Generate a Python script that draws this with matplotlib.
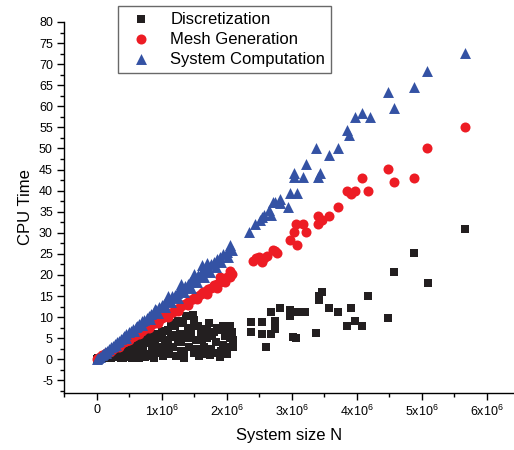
'''
CPU time against system size for the three solver stages.
Writes out.png (514x450 px).
'''

import numpy as np
import matplotlib.pyplot as plt
from matplotlib.ticker import MultipleLocator, FuncFormatter

plt.rcParams['font.family'] = ['Liberation Sans', 'DejaVu Sans']
plt.rcParams['mathtext.fontset'] = 'custom'
plt.rcParams['mathtext.rm'] = 'Liberation Sans'
plt.rcParams['mathtext.it'] = 'Liberation Sans'
plt.rcParams['axes.unicode_minus'] = False

BLACK = '#231f20'
RED = '#ed1c24'
BLUE = '#3452a4'

# system size in units of 1e6, cpu time
disc_n = [0.0, 0.03, 0.06, 0.1, 0.12, 0.15, 0.18, 0.2, 0.22, 0.25, 0.28, 0.3,
          0.32, 0.35, 0.38, 0.4, 0.42, 0.45, 0.47, 0.5, 0.52, 0.55, 0.57, 0.6,
          0.62, 0.65, 0.67, 0.7, 0.72, 0.75, 0.78, 0.8, 0.82, 0.85, 0.88, 0.9,
          0.92, 0.95, 0.98, 1.0, 1.02, 1.05, 1.08, 1.1, 1.12, 1.15, 1.18, 1.2,
          1.22, 1.25, 1.28, 1.3, 1.33, 1.35, 1.38, 1.4, 1.42, 1.45, 1.48, 1.5,
          1.53, 1.56, 1.58, 1.6, 1.63, 1.65, 1.68, 1.7, 1.73, 1.76, 1.8, 1.83,
          1.86, 1.9, 1.92, 1.95, 1.98, 2.0, 2.02, 2.05, 2.08, 2.1, 2.1,
          0.6, 0.7, 0.85, 0.95, 1.0, 1.1, 1.2, 1.3, 1.4, 1.45, 1.5, 1.55,
          1.62, 1.7, 1.78, 1.85, 1.95, 2.05, 1.35, 1.6, 1.25, 1.15, 1.05, 0.9,
          0.75, 0.4, 0.5, 0.3, 0.65, 1.9, 1.75, 2.0,
          2.38, 2.38, 2.55, 2.55, 2.6, 2.69, 2.69, 2.74, 2.74, 2.82, 2.97, 2.97,
          3.02, 3.06, 3.08, 3.2, 3.38, 3.42, 3.42, 3.46, 3.58, 3.71, 3.85, 3.91,
          3.98, 4.08, 4.18, 4.48, 4.57, 4.88, 5.09, 5.66]
disc_t = [0.0, 0.3, 0.1, 0.5, 0.2, 1.0, 0.4, 1.5, 0.3, 0.8, 2.0, 0.5,
          1.2, 2.5, 0.3, 1.8, 3.0, 0.6, 2.2, 3.5, 1.0, 0.2, 2.8, 4.2,
          1.5, 0.4, 3.2, 5.0, 2.0, 0.6, 3.8, 1.2, 5.5, 2.5, 0.3, 4.2,
          6.0, 1.5, 3.0, 6.5, 0.8, 4.5, 2.2, 7.0, 1.2, 5.2, 3.0, 7.8,
          0.8, 4.0, 6.0, 2.0, 8.5, 1.0, 10.2, 5.0, 3.0, 7.5, 10.5, 1.5,
          4.5, 8.0, 0.8, 6.0, 7.2, 3.0, 1.2, 5.0, 8.5, 2.5, 6.5, 4.0,
          1.5, 7.0, 2.0, 8.0, 5.5, 7.0, 3.0, 8.0, 6.4, 2.8, 4.5,
          0.2, 1.0, 0.8, 5.0, 2.5, 3.8, 5.8, 4.2, 7.0, 5.8, 9.2, 2.5,
          4.8, 7.0, 5.5, 7.5, 3.5, 5.0, 0.3, 1.8, 9.0, 8.5, 6.8, 2.5,
          4.5, 0.3, 2.2, 1.8, 2.5, 0.6, 1.0, 1.2,
          8.8, 6.4, 8.8, 5.9, 2.8, 11.1, 5.9, 9.0, 7.1, 12.1, 11.8, 10.2,
          5.2, 5.0, 11.1, 11.1, 6.2, 14.0, 14.9, 15.9, 12.1, 11.1, 8.0, 12.1,
          9.0, 7.8, 14.9, 9.9, 20.8, 25.1, 18.0, 31.0]

mesh_n = [0.0, 0.03, 0.06, 0.09, 0.12, 0.15, 0.18, 0.21, 0.24, 0.27, 0.3, 0.33,
          0.36, 0.39, 0.42, 0.45, 0.48, 0.51, 0.54, 0.57, 0.6, 0.63, 0.66, 0.7,
          0.73, 0.76, 0.8, 0.83, 0.86, 0.9, 0.93, 0.96, 1.0, 1.03, 1.06, 1.1,
          1.13, 1.17, 1.2, 1.24, 1.28, 1.32, 1.36, 1.4, 1.44, 1.48, 1.52, 1.56,
          1.6, 1.64, 1.68, 1.72, 1.76, 1.8, 1.85, 1.9, 1.95, 2.0, 2.05, 2.08,
          0.2, 0.35, 0.5, 0.65, 0.8, 0.95, 1.1, 1.25, 1.4, 1.55, 1.7, 1.85,
          1.98, 2.05, 1.9,
          2.4, 2.45, 2.5, 2.54, 2.58, 2.62, 2.71, 2.75, 2.78, 2.97, 3.03, 3.06,
          3.09, 3.18, 3.22, 3.4, 3.4, 3.46, 3.58, 3.71, 3.85, 3.91, 3.98, 4.08,
          4.18, 4.48, 4.57, 4.88, 5.08, 5.66]
mesh_t = [0.0, 0.3, 0.6, 0.9, 1.1, 1.4, 1.8, 2.0, 2.3, 2.7, 2.9, 3.2,
          3.5, 3.8, 4.0, 4.4, 4.6, 5.0, 5.2, 5.5, 5.9, 6.1, 6.4, 6.8,
          7.1, 7.3, 7.8, 8.0, 8.4, 8.7, 9.0, 9.4, 9.7, 10.0, 10.3, 10.6,
          11.0, 11.3, 11.7, 12.0, 12.5, 12.8, 13.2, 13.6, 14.0, 14.3, 14.8, 15.1,
          15.5, 16.0, 16.3, 16.7, 17.0, 17.5, 17.8, 18.4, 18.8, 19.4, 19.6, 20.2,
          1.7, 3.0, 4.5, 5.9, 7.3, 8.7, 10.1, 11.5, 12.9, 14.3, 15.6, 17.0,
          18.3, 21.0, 19.5,
          23.2, 24.0, 24.2, 23.0, 24.1, 24.5, 26.0, 25.8, 25.1, 28.2, 30.1, 32.2,
          27.0, 32.2, 30.1, 32.0, 34.1, 33.1, 34.1, 36.2, 40.0, 39.1, 40.0, 43.1,
          40.0, 45.2, 42.1, 43.1, 50.2, 55.1]

sys_n = [0.0, 0.02, 0.05, 0.08, 0.1, 0.13, 0.16, 0.19, 0.22, 0.25, 0.28, 0.31,
         0.34, 0.37, 0.4, 0.43, 0.46, 0.5, 0.53, 0.56, 0.6, 0.63, 0.66, 0.7,
         0.73, 0.77, 0.8, 0.84, 0.88, 0.92, 0.96, 1.0, 1.04, 1.08, 1.12, 1.16,
         1.2, 1.24, 1.28, 1.32, 1.36, 1.4, 1.44, 1.48, 1.52, 1.56, 1.6, 1.64,
         1.68, 1.72, 1.76, 1.8, 1.85, 1.9, 1.95, 2.0, 2.05, 2.09,
         0.15, 0.3, 0.45, 0.58, 0.7, 0.82, 0.95, 1.05, 1.15, 1.25, 1.35, 1.45,
         1.55, 1.65, 1.75, 1.83, 1.92, 2.02, 0.9, 1.1, 1.3, 1.5, 1.7, 1.62,
         2.06,
         2.35, 2.43, 2.51, 2.55, 2.58, 2.66, 2.69, 2.71, 2.74, 2.82, 2.82, 2.95,
         2.97, 3.03, 3.03, 3.09, 3.18, 3.22, 3.38, 3.4, 3.43, 3.58, 3.71, 3.85,
         3.89, 3.98, 4.09, 4.2, 4.48, 4.57, 4.88, 5.08, 5.66]
sys_t = [0.0, 0.2, 0.6, 1.0, 1.2, 1.7, 2.0, 2.5, 2.8, 3.2, 3.6, 4.0,
         4.3, 4.8, 5.1, 5.5, 5.9, 6.4, 6.8, 7.1, 7.7, 8.0, 8.4, 9.0,
         9.3, 9.8, 10.2, 10.7, 11.3, 11.7, 12.3, 12.8, 13.2, 13.8, 14.3, 14.9,
         15.3, 15.8, 16.4, 16.8, 17.4, 17.9, 18.3, 18.9, 19.4, 19.9, 20.4, 20.9,
         21.5, 22.0, 22.6, 23.0, 23.7, 24.3, 24.9, 25.5, 26.3, 26.0,
         1.4, 3.3, 5.0, 6.6, 8.2, 9.6, 11.0, 12.3, 13.5, 14.6, 16.0, 17.0,
         18.4, 19.5, 20.8, 22.0, 23.0, 24.3, 12.0, 15.0, 17.8, 20.2, 22.9, 22.4,
         27.0,
         30.1, 32.0, 33.1, 33.8, 34.3, 35.5, 34.3, 37.2, 37.4, 37.1, 37.9, 36.2,
         39.5, 44.3, 43.3, 39.5, 43.3, 46.4, 50.2, 43.3, 44.3, 48.5, 50.2, 54.4,
         53.3, 57.5, 58.5, 57.5, 63.4, 59.6, 64.6, 68.4, 72.7]


def sci_label(value, pos):
    '''
    Tick label in the form 1x10^6.
    '''
    k = int(round(value / 1e6))
    if k == 0:
        return '0'
    return r'%dx10$^{6}$' % k


fig = plt.figure(figsize=(5.14, 4.5), dpi=100)
ax = fig.add_axes([64 / 514, 57 / 450, 1 - 64 / 514, 371 / 450])

ax.scatter(np.array(disc_n) * 1e6, disc_t, marker='s', s=38, color=BLACK,
           linewidths=0, label='Discretization', zorder=2)
ax.scatter(np.array(mesh_n) * 1e6, mesh_t, marker='o', s=52, color=RED,
           linewidths=0, label='Mesh Generation', zorder=3)
ax.scatter(np.array(sys_n) * 1e6, sys_t, marker='^', s=62, color=BLUE,
           linewidths=0, label='System Computation', zorder=4)

ax.set_xlim(-0.5e6, 6.42e6)
ax.set_ylim(-8, 80)

ax.spines['top'].set_visible(False)
ax.spines['right'].set_visible(False)
for side in ('left', 'bottom'):
    ax.spines[side].set_linewidth(1.0)

ax.xaxis.set_major_locator(MultipleLocator(1e6))
ax.xaxis.set_minor_locator(MultipleLocator(0.5e6))
ax.xaxis.set_major_formatter(FuncFormatter(sci_label))
ax.yaxis.set_major_locator(MultipleLocator(5))
ax.yaxis.set_minor_locator(MultipleLocator(2.5))

ax.tick_params(which='major', direction='out', length=5, width=1,
               labelsize=9, pad=3)
ax.tick_params(which='minor', direction='out', length=3, width=1)

ax.set_xlabel('System size N', fontsize=12, labelpad=6)
ax.set_ylabel('CPU Time', fontsize=12, labelpad=4)

# legend box sits in the upper left, partly over the plot
leg = ax.legend(loc='upper left', bbox_to_anchor=(118 / 514, 1 - 6 / 450),
                bbox_transform=fig.transFigure, borderaxespad=0,
                fontsize=12, frameon=True, fancybox=False,
                handletextpad=0.8, handlelength=2.0, labelspacing=0.3,
                borderpad=0.35, scatterpoints=1)
leg.get_frame().set_edgecolor('#444444')
leg.get_frame().set_linewidth(1.0)

fig.savefig('out.png', dpi=100)
plt.close(fig)
